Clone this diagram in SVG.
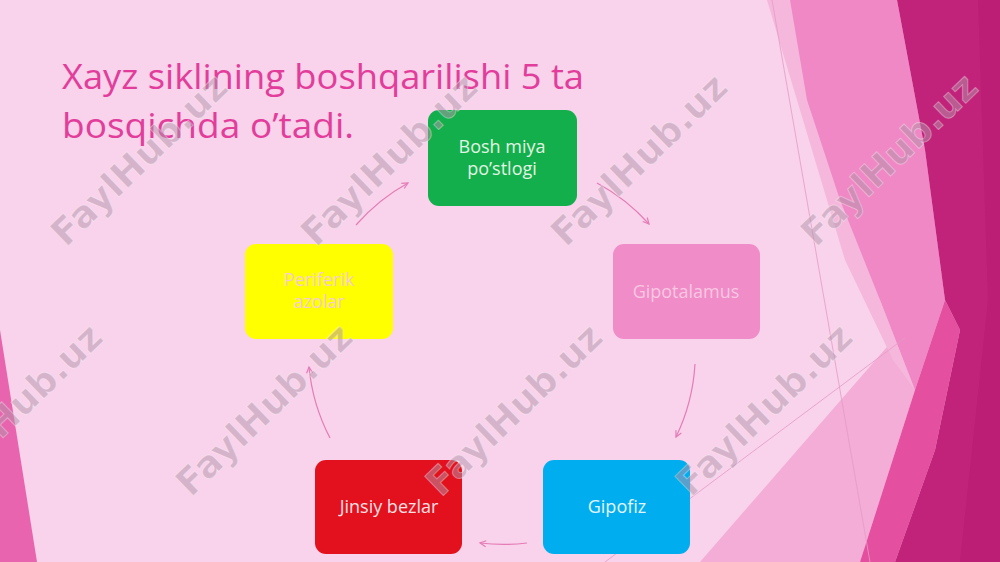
<svg xmlns="http://www.w3.org/2000/svg" width="1000" height="562" viewBox="0 0 1000 562">
<style>
.title{font-family:"Open Sans","DejaVu Sans",sans-serif;font-size:34px;fill:#E23D9B}
.lbl{font-family:"Open Sans","DejaVu Sans",sans-serif;font-size:18px;text-anchor:middle}
.conn{fill:none;stroke:#E47CB6;stroke-width:1.2;marker-end:url(#ah)}
.wm{font-family:"DejaVu Sans","Liberation Sans",sans-serif;font-weight:bold;font-size:37px;fill:#B294A9;fill-opacity:0.5;stroke:#FFFFFF;stroke-opacity:0.35;stroke-width:1}
</style>
<defs>
<marker id="ah" markerWidth="9" markerHeight="9" refX="7" refY="4" orient="auto" markerUnits="userSpaceOnUse">
<path d="M1,1 L7,4 L1,7" fill="none" stroke="#E47CB6" stroke-width="1.2"/>
</marker>
</defs>
<!-- background -->
<rect x="0" y="0" width="1000" height="562" fill="#F9D2EB"/>
<polygon points="0,330 37,562 0,562" fill="#E864AE"/>
<polygon points="700,562 893,340 915,390 860,562" fill="#F3ADD6"/>
<polygon points="767,0 800,0 880,300 915,390 893,360 845,260" fill="#F5B8DC"/>
<polygon points="790,0 897,0 925,150 945,300 915,390 880,300 840,200 807,100" fill="#EF88C5"/>
<polygon points="945,300 960,330 935,450 895,562 860,562 915,390" fill="#E44FA0"/>
<polygon points="897,0 1000,0 1000,562 895,562 935,450 960,330 945,300 925,150" fill="#C2237A"/>
<polygon points="978,0 1000,0 1000,562 960,562 988,300" fill="#B51870" fill-opacity="0.5"/>
<line x1="772" y1="0" x2="870" y2="562" stroke="#E59AC6" stroke-width="0.8"/>
<line x1="605" y1="562" x2="905" y2="338" stroke="#E59AC6" stroke-width="0.8"/>
<!-- title -->
<g id="title">
<text class="title" x="62" y="89" textLength="522" lengthAdjust="spacingAndGlyphs">Xayz siklining boshqarilishi 5 ta</text>
<text class="title" x="62" y="138" textLength="292" lengthAdjust="spacingAndGlyphs">bosqichda o’tadi.</text>
</g>
<!-- connectors -->
<g id="connectors">
<path class="conn" d="M356,225 A193,193 0 0 1 408,183"/>
<path class="conn" d="M597,183 A193,193 0 0 1 649,224"/>
<path class="conn" d="M695,364 A193,193 0 0 1 676,437"/>
<path class="conn" d="M527,543 A193,193 0 0 1 480,543"/>
<path class="conn" d="M330,438 A193,193 0 0 1 309,367"/>
</g>
<!-- nodes -->
<g id="node-bosh">
<rect x="428" y="110" width="149" height="96" rx="11" fill="#12AF4C"/>
<text class="lbl" x="502" y="153" fill="#E3F4E3">Bosh miya</text>
<text class="lbl" x="502" y="175" fill="#E3F4E3">po’stlogi</text>
</g>
<g id="node-gipotalamus">
<rect x="613" y="244" width="147" height="95" rx="11" fill="#F08CC7"/>
<text class="lbl" x="686" y="298" fill="#F9C7E4">Gipotalamus</text>
</g>
<g id="node-gipofiz">
<rect x="543" y="460" width="147" height="94" rx="11" fill="#00AEEF"/>
<text class="lbl" x="617" y="513" fill="#E2F4FB">Gipofiz</text>
</g>
<g id="node-jinsiy">
<rect x="315" y="460" width="147" height="94" rx="11" fill="#E3101E"/>
<text class="lbl" x="389" y="513" fill="#FCE2E6">Jinsiy bezlar</text>
</g>
<g id="node-periferik">
<rect x="245" y="244" width="148" height="95" rx="11" fill="#FFFF00"/>
<text class="lbl" x="319" y="286" fill="#F4CCD8">Periferik</text>
<text class="lbl" x="319" y="308" fill="#F4CCD8">azolar</text>
</g>
<!-- watermarks -->
<g id="watermarks">
<text class="wm" transform="translate(66,248) rotate(-44)" textLength="228" lengthAdjust="spacingAndGlyphs">FaylHub.uz</text>
<text class="wm" transform="translate(316,248) rotate(-44)" textLength="228" lengthAdjust="spacingAndGlyphs">FaylHub.uz</text>
<text class="wm" transform="translate(566,248) rotate(-44)" textLength="228" lengthAdjust="spacingAndGlyphs">FaylHub.uz</text>
<text class="wm" transform="translate(816,248) rotate(-44)" textLength="228" lengthAdjust="spacingAndGlyphs">FaylHub.uz</text>
<text class="wm" transform="translate(-59,498) rotate(-44)" textLength="228" lengthAdjust="spacingAndGlyphs">FaylHub.uz</text>
<text class="wm" transform="translate(191,498) rotate(-44)" textLength="228" lengthAdjust="spacingAndGlyphs">FaylHub.uz</text>
<text class="wm" transform="translate(441,498) rotate(-44)" textLength="228" lengthAdjust="spacingAndGlyphs">FaylHub.uz</text>
<text class="wm" transform="translate(691,498) rotate(-44)" textLength="228" lengthAdjust="spacingAndGlyphs">FaylHub.uz</text>
</g>
</svg>
